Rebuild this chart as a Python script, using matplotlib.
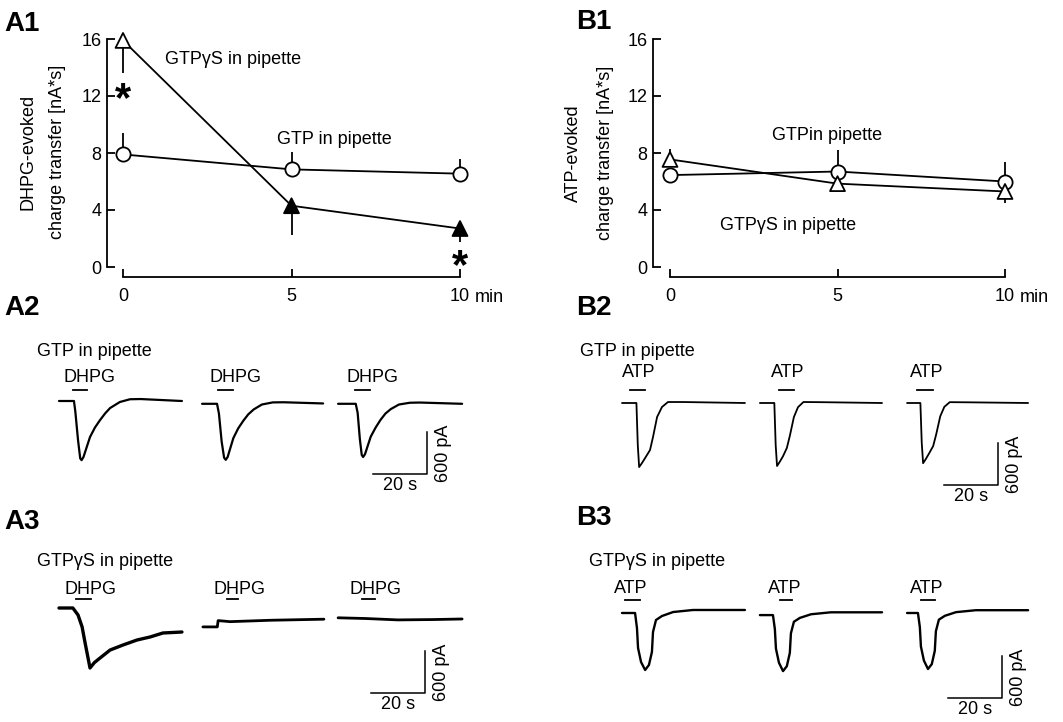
import numpy as np
import matplotlib
matplotlib.use('Agg')
import matplotlib.pyplot as plt

plt.rcParams['font.family'] = ['Liberation Sans', 'DejaVu Sans']
plt.rcParams['font.size'] = 13

W, H = 1063, 722
FS = 13

# ---------------- summary data (A1, B1) ----------------
time_min = [0, 5, 10]

a1_gtp = [7.9, 6.85, 6.55]
a1_gtp_lo = [0, 0, 0]
a1_gtp_hi = [1.5, 1.25, 1.05]
a1_gtps = [15.9, 4.3, 2.7]
a1_gtps_lo = [2.3, 2.05, 0.95]
a1_gtps_hi = [0, 0, 0]
a1_gtps_filled = [False, True, True]
a1_stars_t = [0, 10]
a1_stars_y = [12.4, 0.7]

b1_gtp = [6.45, 6.7, 6.0]
b1_gtp_lo = [0, 0, 0]
b1_gtp_hi = [0, 1.5, 1.4]
b1_gtps = [7.55, 5.85, 5.3]
b1_gtps_lo = [0, 0.55, 0.8]
b1_gtps_hi = [0.75, 0, 0]
b1_gtps_filled = [False, False, False]

# ---------------- current traces (s, pA) ----------------
a2_t1 = [0, 5.5, 6.0, 7.0, 7.8, 8.3, 9.0, 11.4, 13.2, 15.1, 17.0, 18.8, 22.4, 26.1, 30, 45.2]
a2_i1 = [0, 0, -150, -560, -820, -845, -800, -515, -380, -272, -175, -100, -14, 25, 28, 0]
a2_t2 = [0, 5.5, 6.2, 7.2, 8.1, 8.7, 9.4, 11.5, 13.3, 15.2, 17.0, 19.0, 22.0, 26.0, 30, 44.5]
a2_i2 = [-40, -40, -180, -580, -810, -840, -800, -530, -390, -280, -190, -120, -50, -20, -18, -35]
a2_t3 = [0, 6.5, 7.2, 8.0, 8.7, 9.2, 9.9, 12.0, 13.8, 15.6, 17.4, 19.4, 22.4, 26.4, 30, 45.6]
a2_i3 = [-40, -40, -170, -540, -770, -800, -760, -510, -380, -270, -180, -115, -50, -25, -22, -40]
a2_stim = [(5.1, 10.3), (5.9, 11.4), (6.3, 11.8)]

b2_t1 = [0, 5.3, 5.8, 6.3, 7.3, 8.5, 10.3, 11.4, 12.9, 14.7, 16.9, 22.4, 45.2]
b2_i1 = [0, 0, -600, -915, -860, -786, -672, -486, -200, -57, 14, 14, 0]
b2_t2 = [0, 5.3, 5.8, 6.3, 7.3, 8.5, 9.9, 11.0, 12.5, 14.0, 16.0, 22.0, 44.9]
b2_i2 = [0, 0, -600, -900, -840, -760, -643, -470, -200, -60, 14, 12, 0]
b2_t3 = [0, 4.9, 5.4, 5.9, 6.9, 8.1, 9.6, 10.7, 12.2, 13.7, 15.7, 22.0, 44.5]
b2_i3 = [0, 0, -570, -860, -800, -720, -615, -450, -190, -55, 12, 10, 0]
b2_stim = [(2.9, 8.5), (7.0, 12.5), (3.7, 9.6)]

a3_t1 = [0, 5.1, 7.0, 8.5, 9.6, 11.4, 13.0, 15.1, 18.8, 23.5, 28.7, 33.5, 38.2, 45.2]
a3_i1 = [0, 0, -100, -271, -500, -857, -780, -714, -600, -529, -457, -414, -357, -343]
a3_t2 = [0, 5.3, 5.6, 10, 25, 44.5]
a3_i2 = [-270, -270, -180, -195, -175, -160]
a3_t3 = [0, 10, 22, 35, 45.6]
a3_i3 = [-140, -150, -170, -165, -157]
a3_stim = [(6.3, 11.8), (8.8, 12.9), (8.8, 13.6)]

b3_t1 = [0, 4.8, 5.5, 5.9, 7.0, 8.5, 9.9, 11.0, 11.4, 12.5, 14.7, 18.8, 26.1, 45.2]
b3_i1 = [0, 0, -214, -500, -700, -814, -743, -557, -271, -100, -43, 14, 43, 43]
b3_t2 = [0, 4.8, 5.5, 5.9, 7.0, 8.5, 9.9, 11.0, 11.4, 12.5, 14.7, 18.8, 26.1, 44.9]
b3_i2 = [-30, -30, -230, -510, -710, -830, -760, -570, -290, -125, -70, -18, 10, 10]
b3_t3 = [0, 4.0, 4.7, 5.1, 6.2, 7.7, 9.1, 10.2, 10.6, 11.7, 13.9, 18.0, 25.3, 44.5]
b3_i3 = [0, 0, -200, -480, -680, -800, -730, -540, -260, -95, -40, 12, 40, 40]
b3_stim = [(1.1, 6.6), (7.4, 11.8), (5.1, 10.3)]

scale_s = 20
scale_pa = 600

fig = plt.figure(figsize=(W / 100, H / 100), dpi=100)


def px_axes(x0, y0, x1, y1):
    return fig.add_axes([x0 / W, 1 - y1 / H, (x1 - x0) / W, (y1 - y0) / H])


def ftext(x, y, s, **kw):
    fig.text(x / W, 1 - y / H, s, **kw)


def summary_panel(x_spine, x_zero, x_ten, gtp, gtp_lo, gtp_hi, gtps, gtps_lo, gtps_hi, filled):
    per = (x_ten - x_zero) / 10.0
    x_right = x_spine + 390
    ax = px_axes(x_spine, 39, x_right, 267)
    ax.set_xlim(-(x_zero - x_spine) / per, (x_right - x_zero) / per)
    ax.set_ylim(0, 16)
    for s in ['top', 'right']:
        ax.spines[s].set_visible(False)
    ax.spines['left'].set_bounds(0, 16)
    ax.spines['bottom'].set_position(('outward', 7.2))
    ax.spines['bottom'].set_bounds(0, 10)
    for s in ['left', 'bottom']:
        ax.spines[s].set_linewidth(1.3)
    ax.set_yticks([0, 4, 8, 12, 16])
    ax.set_xticks(time_min)
    ax.set_xticklabels(['0', '5', '10'])
    ax.tick_params(axis='y', direction='in', length=6, width=1.3, pad=4, labelsize=FS)
    ax.tick_params(axis='x', direction='in', length=6, width=1.3, pad=8, labelsize=FS)
    ax.annotate('min', xy=(10, 0), xycoords=('data', 'axes fraction'),
                xytext=(10.5, -21.6), textcoords='offset points', va='center', ha='left',
                fontsize=FS)

    ax.errorbar(time_min, gtp, yerr=[gtp_lo, gtp_hi], fmt='none', ecolor='black',
                elinewidth=1.3, capsize=0, clip_on=False, zorder=2)
    ax.errorbar(time_min, gtps, yerr=[gtps_lo, gtps_hi], fmt='none', ecolor='black',
                elinewidth=1.3, capsize=0, clip_on=False, zorder=2)
    ax.plot(time_min, gtp, color='black', lw=1.3, clip_on=False, zorder=3)
    ax.plot(time_min, gtps, color='black', lw=1.3, clip_on=False, zorder=3)
    ax.scatter(time_min, gtp, s=105, marker='o', facecolors='white', edgecolors='black',
               linewidths=1.3, clip_on=False, zorder=4)
    faces = ['black' if f else 'white' for f in filled]
    ax.scatter(time_min, gtps, s=115, marker='^', facecolors=faces, edgecolors='black',
               linewidths=1.3, clip_on=False, zorder=4)
    return ax


# ---------------- A1 ----------------
ax_a1 = summary_panel(107, 123, 460, a1_gtp, a1_gtp_lo, a1_gtp_hi,
                      a1_gtps, a1_gtps_lo, a1_gtps_hi, a1_gtps_filled)
for t, y in zip(a1_stars_t, a1_stars_y):
    ax_a1.annotate('*', xy=(t, y), xytext=(0, -7), textcoords='offset points',
                   ha='center', va='center', fontsize=30, fontweight='bold')
ftext(165, 60, 'GTPγS in pipette', va='center', ha='left')
ftext(277, 140, 'GTP in pipette', va='center', ha='left')
ftext(28, 152, 'DHPG-evoked', rotation=90, ha='center', va='center')
ftext(57, 152, 'charge transfer [nA*s]', rotation=90, ha='center', va='center')

# ---------------- B1 ----------------
ax_b1 = summary_panel(653, 670, 1005, b1_gtp, b1_gtp_lo, b1_gtp_hi,
                      b1_gtps, b1_gtps_lo, b1_gtps_hi, b1_gtps_filled)
ftext(772, 135, 'GTPin pipette', va='center', ha='left')
ftext(720, 225, 'GTPγS in pipette', va='center', ha='left')
ftext(573, 153, 'ATP-evoked', rotation=90, ha='center', va='center')
ftext(605, 153, 'charge transfer [nA*s]', rotation=90, ha='center', va='center')

# ---------------- traces ----------------
PX_S = 2.72    # pixels per second
PX_PA = 0.07   # pixels per pA


def trace_panel(x_start, y_base, traces, offsets, stims, drug, lw, bar_y, text_y, text_dx,
                bar_t, bar_i):
    ax = px_axes(x_start, y_base - 600 * PX_PA, x_start + 160 * PX_S, y_base + 1500 * PX_PA)
    ax.set_xlim(0, 160)
    ax.set_ylim(-1500, 600)
    ax.axis('off')
    for (t, i), off, (on, offt), w in zip(traces, offsets, stims, lw):
        ax.plot(np.array(t) + off, i, color='black', lw=w, solid_joinstyle='round',
                solid_capstyle='round', clip_on=False)
        ax.plot([on + off, offt + off], [bar_y, bar_y], color='black', lw=1.3, clip_on=False)
        ax.text((on + offt) / 2 + off + text_dx, text_y, drug, ha='center', va='center',
                fontsize=FS)
    # scale bar
    ax.plot([bar_t - scale_s, bar_t, bar_t], [bar_i, bar_i, bar_i + scale_pa],
            color='black', lw=1.1, clip_on=False)
    ax.text(bar_t - scale_s / 2, bar_i - 170, '%d s' % scale_s, ha='center', va='center',
            fontsize=FS)
    ax.text(bar_t + 6.2, bar_i + scale_pa / 2, '%d pA' % scale_pa, ha='center', va='center',
            rotation=90, fontsize=FS)
    return ax


trace_panel(59, 401, [(a2_t1, a2_i1), (a2_t2, a2_i2), (a2_t3, a2_i3)], [0, 52.6, 102.6],
            a2_stim, 'DHPG', [1.6, 1.6, 1.6], 157, 330, 3.6, 135.3, -1044)
trace_panel(622, 403, [(b2_t1, b2_i1), (b2_t2, b2_i2), (b2_t3, b2_i3)], [0, 50.7, 104.8],
            b2_stim, 'ATP', [1.3, 1.3, 1.3], 186, 430, 0.5, 138.2, -1172)
trace_panel(59, 608, [(a3_t1, a3_i1), (a3_t2, a3_i2), (a3_t3, a3_i3)], [0, 52.9, 102.6],
            a3_stim, 'DHPG', [2.4, 2.0, 2.0], 130, 270, 2.6, 134.6, -1215)
trace_panel(622, 613, [(b3_t1, b3_i1), (b3_t2, b3_i2), (b3_t3, b3_i3)], [0, 50.7, 104.8],
            b3_stim, 'ATP', [1.7, 1.7, 1.7], 186, 357, -0.5, 139.7, -1215)

ftext(37, 352, 'GTP in pipette', va='center', ha='left')
ftext(580, 352, 'GTP in pipette', va='center', ha='left')
ftext(37, 562, 'GTPγS in pipette', va='center', ha='left')
ftext(589, 562, 'GTPγS in pipette', va='center', ha='left')

# panel letters
for lab, x, y in [('A1', 4, 24), ('B1', 576, 22), ('A2', 4, 308), ('B2', 576, 308),
                  ('A3', 4, 522), ('B3', 576, 518)]:
    ftext(x, y, lab, fontsize=20, fontweight='bold', va='center', ha='left')

fig.savefig('out.png', dpi=100)
